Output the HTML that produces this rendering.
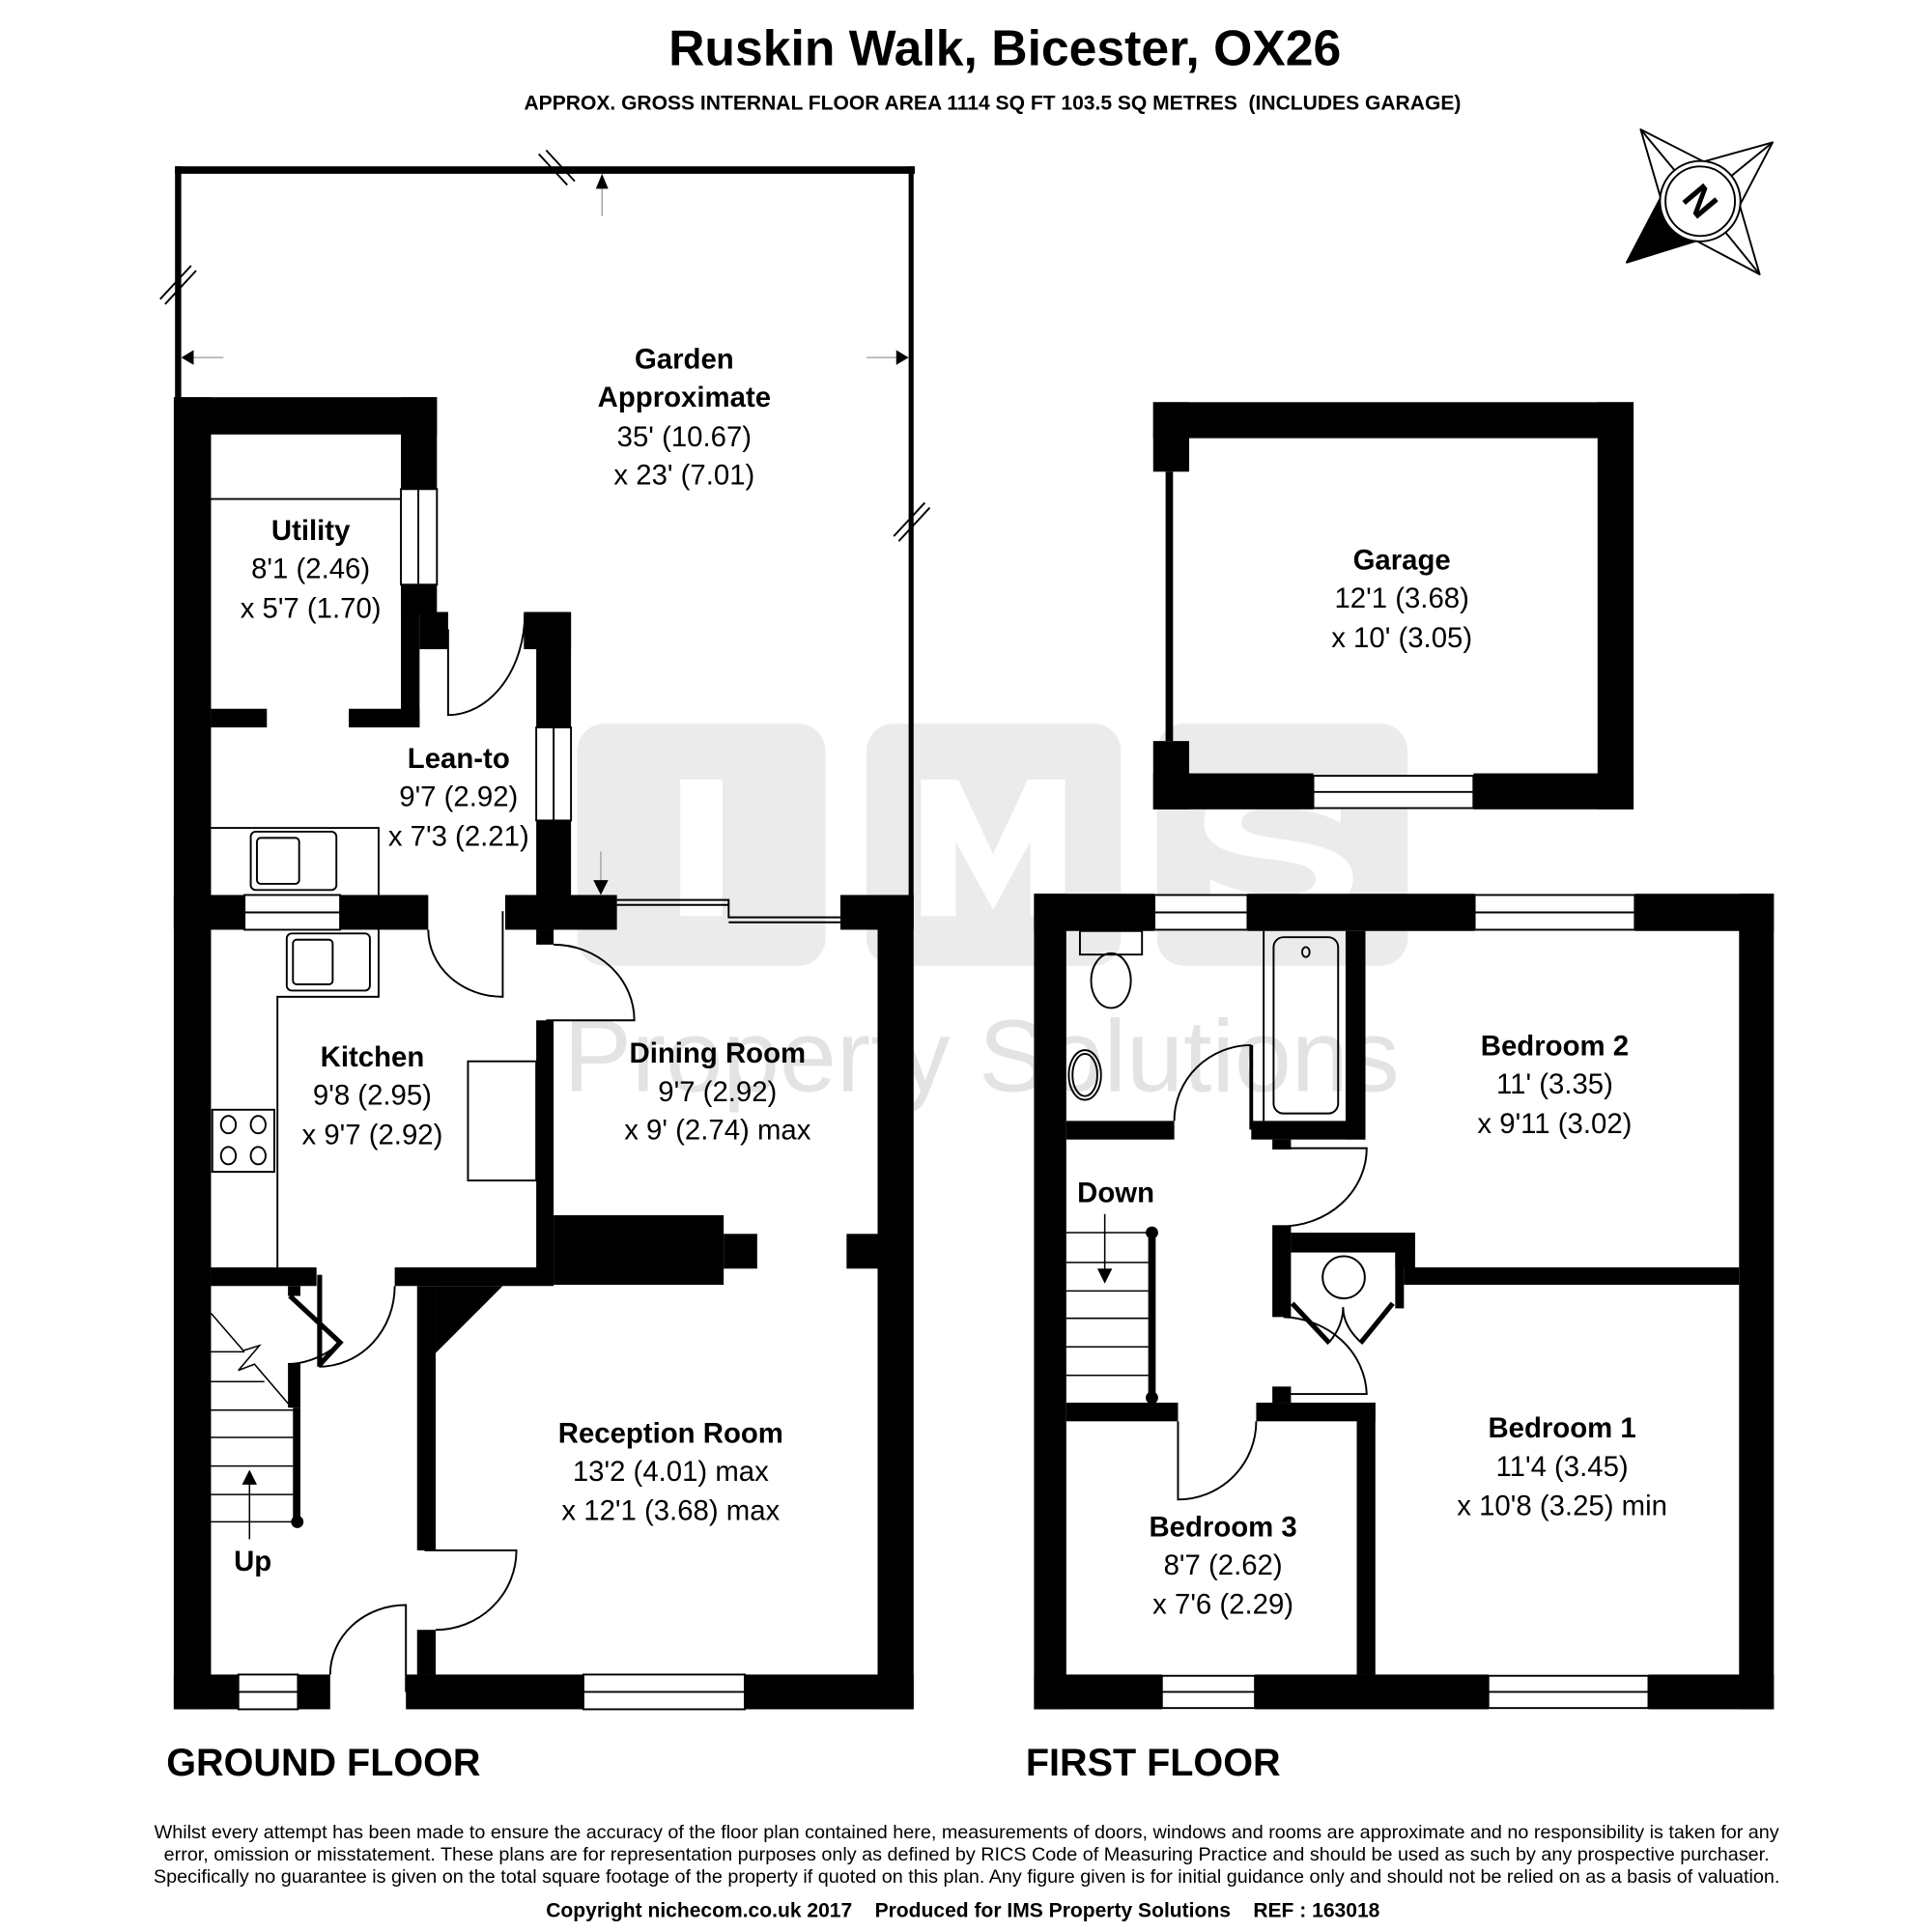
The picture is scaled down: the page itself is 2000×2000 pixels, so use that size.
<!DOCTYPE html>
<html><head><meta charset="utf-8"><style>
html,body{margin:0;padding:0;background:#fff}
svg{display:block}
text{font-family:"Liberation Sans",Arial,sans-serif;fill:#000}
.b{font-weight:bold}
.pre{white-space:pre}
</style></head><body>
<svg width="2000" height="2000" viewBox="0 0 1567 1567" xmlns="http://www.w3.org/2000/svg">
<g transform="scale(1.0068)">
<g fill="#ebebeb">
<rect x="465" y="583" width="200" height="195" rx="22"/>
<rect x="698" y="583" width="205" height="195" rx="22"/>
<rect x="932" y="583" width="202" height="195" rx="22"/>
</g>
<g fill="#fff">
<rect x="548" y="628" width="34" height="110"/>
<path d="M742 738 V628 h30 l28 60 l28-60 h30 v110 h-28 v-60 l-30 55 l-30-55 v60z"/>
<path d="M1080 638 c-20-15-110-20-110 25 c0 40 90 20 90 45 c0 20-60 15-85 0 v25 c40 15 115 10 115-25 c0-40-90-25-90-45 c0-18 55-15 80 0z"/>
</g>
</g>
<text x="457" y="885" font-size="83" style="fill:#e3e3e3">Property Solutions</text>

<text x="815" y="53" font-size="40.5" class="b" text-anchor="middle">Ruskin Walk, Bicester, OX26</text>
<text x="805" y="89" font-size="16.5" class="b pre" text-anchor="middle">APPROX. GROSS INTERNAL FLOOR AREA 1114 SQ FT 103.5 SQ METRES  (INCLUDES GARAGE)</text>

<g transform="scale(1.0068)">
<g stroke="#000" stroke-width="1.5" fill="#fff" stroke-linejoin="round">
<polygon points="1321.7,104.3 1372.5,130.2 1428,114.7 1401.5,165.4 1417.6,221 1366.6,194 1310.5,211.4 1337.8,159.3"/>
<polygon points="1310.5,211.4 1337.8,159.3 1369.7,162.1 1366.6,194" fill="#000"/>
<line x1="1321.7" y1="104.3" x2="1369.7" y2="162.1"/>
<line x1="1428" y1="114.7" x2="1369.7" y2="162.1"/>
<line x1="1417.6" y1="221" x2="1369.7" y2="162.1"/>
<circle cx="1369.7" cy="162.1" r="32.4"/>
<circle cx="1369.7" cy="162.1" r="28"/>
</g>
<text x="1369.7" y="173" font-size="32" class="b" text-anchor="middle" transform="rotate(50 1369.7 162.1)">N</text>

<g fill="#000">
<rect x="141" y="134" width="596" height="6"/>
<rect x="141" y="134" width="5" height="190"/>
<rect x="732" y="134" width="4" height="590"/>
<rect x="141" y="320" width="211" height="30"/>
<rect x="323" y="320" width="29" height="74"/>
<rect x="323" y="471" width="29" height="24"/>
<rect x="323" y="471" width="15" height="115"/>
<rect x="338" y="493" width="23" height="30"/>
<rect x="170" y="571" width="45" height="15"/>
<rect x="281" y="571" width="57" height="15"/>
<rect x="422" y="493" width="38" height="30"/>
<rect x="432" y="493" width="28" height="93"/>
<rect x="432" y="661" width="28" height="62"/>
<rect x="140" y="320" width="30" height="1057"/>
<rect x="140" y="721" width="57" height="28"/>
<rect x="274" y="721" width="71" height="28"/>
<rect x="407" y="721" width="90" height="28"/>
<rect x="677" y="721" width="59" height="28"/>
<rect x="432" y="749" width="14" height="12"/>
<rect x="707" y="721" width="29" height="656"/>
<rect x="140" y="1349" width="52" height="28"/>
<rect x="240" y="1349" width="26" height="28"/>
<rect x="327" y="1349" width="143" height="28"/>
<rect x="600" y="1349" width="136" height="28"/>
<rect x="432" y="822" width="14" height="200"/>
<rect x="446" y="979" width="137" height="56"/>
<rect x="583" y="994" width="27" height="28"/>
<rect x="682" y="994" width="25" height="28"/>
<rect x="170" y="1021" width="85" height="15"/>
<rect x="318" y="1021" width="128" height="15"/>
<rect x="232" y="1036" width="10" height="8"/>
<rect x="255.5" y="1027" width="4" height="74"/>
<rect x="232" y="1098" width="10" height="36"/>
<rect x="236" y="1134" width="6" height="92"/>
<circle cx="239.5" cy="1226" r="5"/>
<rect x="336" y="1036" width="15" height="213"/>
<polygon points="351,1036 405,1036 351,1090"/>
<rect x="336" y="1313" width="15" height="36"/>
</g>
<g fill="none" stroke="#000" stroke-width="1.5">
<rect x="323" y="394" width="29" height="77"/><line x1="337" y1="394" x2="337" y2="471"/>
<rect x="432" y="586" width="28" height="75"/><line x1="446" y1="586" x2="446" y2="661"/>
<rect x="197" y="721" width="77" height="28"/><line x1="197" y1="735" x2="274" y2="735"/>
<rect x="192" y="1349" width="48" height="28"/><line x1="192" y1="1363" x2="240" y2="1363"/>
<rect x="470" y="1349" width="130" height="28"/><line x1="470" y1="1363" x2="600" y2="1363"/>
<polyline points="497,725 587,725 587,739 677,739"/>
<polyline points="497,729 587,729"/>
<polyline points="587,743 677,743"/>
<line x1="170" y1="402" x2="323" y2="402"/>
<polyline points="170,667 305,667 305,721"/>
<rect x="202" y="670" width="69" height="47" rx="4"/><rect x="207" y="675" width="34" height="37" rx="3"/>
<polyline points="305,749 305,803 223.5,803 223.5,1021"/>
<rect x="231" y="752" width="67" height="46" rx="4"/><rect x="236" y="757" width="32" height="36" rx="3"/>
<rect x="171" y="894" width="50" height="50"/>
<ellipse cx="184" cy="906" rx="6" ry="7"/><ellipse cx="208" cy="906" rx="6" ry="7"/><ellipse cx="184" cy="931" rx="6" ry="7"/><ellipse cx="208" cy="931" rx="6" ry="7"/>
<rect x="377" y="855" width="55" height="96"/>
<path d="M361 507 V576 A62 82 0 0 0 422.8 494"/>
<path d="M345 749 A60 54 0 0 0 405 803 V734"/>
<path d="M446 761 A65 61 0 0 1 511 822 H440"/>
<path d="M318 1036 A61 65 0 0 1 257 1101"/>
<path d="M232 1099 Q255 1098 274 1082"/>
<path d="M342 1249 H416 A65 64 0 0 1 351 1313"/>
<path d="M266 1349 A61 56 0 0 1 327 1293 V1363"/>
<polyline points="233.5,1044 274,1081.5 257,1100" stroke-width="4"/>
<g stroke-width="1.2">
<line x1="170" y1="1089" x2="197" y2="1089"/>
<line x1="170" y1="1113" x2="213" y2="1113"/>
<line x1="170" y1="1136" x2="236" y2="1136"/>
<line x1="170" y1="1158" x2="236" y2="1158"/>
<line x1="170" y1="1181" x2="236" y2="1181"/>
<line x1="170" y1="1204" x2="236" y2="1204"/>
<line x1="170" y1="1226" x2="236" y2="1226"/>
<polyline points="170,1058 196,1088 209,1084 192,1104 205,1099 235,1134"/>
<line x1="201" y1="1192" x2="201" y2="1240"/>
</g>
<g stroke-width="1" stroke="#999">
<line x1="485" y1="150" x2="485" y2="174"/>
<line x1="150" y1="288" x2="180" y2="288"/>
<line x1="698" y1="288" x2="728" y2="288"/>
<line x1="484" y1="686" x2="484" y2="712"/>
</g>
<line x1="434" y1="124" x2="457" y2="149"/><line x1="440" y1="121" x2="463" y2="146"/>
<line x1="129" y1="241" x2="154" y2="214"/><line x1="133" y1="245" x2="158" y2="218"/>
<line x1="720" y1="432" x2="745" y2="405"/><line x1="724" y1="436" x2="749" y2="409"/>
</g>
<g fill="#000">
<polygon points="485,140 480,152 490,152"/>
<polygon points="146,288 156,282 156,294"/>
<polygon points="732,288 722,282 722,294"/>
<polygon points="484,721 478,709 490,709"/>
<polygon points="201,1184 195,1196 207,1196"/>
</g>

<g fill="#000">
<rect x="929" y="324" width="387" height="29"/>
<rect x="1287" y="324" width="29" height="328"/>
<rect x="929" y="623" width="129" height="29"/>
<rect x="1187" y="623" width="129" height="29"/>
<rect x="929" y="324" width="29" height="56"/>
<rect x="929" y="597" width="29" height="55"/>
<rect x="939" y="380" width="6" height="217"/>
</g>
<g fill="none" stroke="#000" stroke-width="1.5">
<rect x="1058" y="625" width="129" height="26" fill="#fff"/><line x1="1058" y1="638" x2="1187" y2="638"/>
</g>

<g fill="#000">
<rect x="833" y="720" width="97" height="30"/>
<rect x="1005" y="720" width="183" height="30"/>
<rect x="1317" y="720" width="112" height="30"/>
<rect x="833" y="720" width="26" height="657"/>
<rect x="1401" y="720" width="28" height="657"/>
<rect x="833" y="1349" width="103" height="28"/>
<rect x="1011" y="1349" width="188" height="28"/>
<rect x="1328" y="1349" width="101" height="28"/>
<rect x="1084" y="750" width="16" height="168"/>
<rect x="859" y="903" width="87" height="15"/>
<rect x="1008" y="903" width="92" height="15"/>
<rect x="1025" y="918" width="15" height="8"/>
<rect x="1006.5" y="842" width="3" height="68"/>
<rect x="1025" y="987" width="15" height="74"/>
<rect x="1040" y="993" width="100" height="16"/>
<rect x="1124" y="993" width="16" height="28"/>
<rect x="1124" y="1009" width="7" height="45"/>
<rect x="1131" y="1021" width="270" height="14"/>
<rect x="1025" y="1117" width="15" height="13"/>
<rect x="859" y="1130" width="90" height="15"/>
<rect x="1012" y="1130" width="96" height="15"/>
<rect x="1093" y="1130" width="15" height="219"/>
<rect x="925" y="993" width="6" height="133"/>
<circle cx="928" cy="993" r="5"/><circle cx="928" cy="1126" r="5"/>
</g>
<g fill="none" stroke="#000" stroke-width="1.5">
<rect x="930" y="721" width="75" height="28" fill="#fff"/><line x1="930" y1="735" x2="1005" y2="735"/>
<rect x="1188" y="721" width="129" height="28" fill="#fff"/><line x1="1188" y1="735" x2="1317" y2="735"/>
<rect x="936" y="1350" width="75" height="26" fill="#fff"/><line x1="936" y1="1363" x2="1011" y2="1363"/>
<rect x="1199" y="1350" width="129" height="26" fill="#fff"/><line x1="1199" y1="1363" x2="1328" y2="1363"/>
<line x1="1018" y1="750" x2="1018" y2="903"/>
<rect x="1026" y="755" width="52" height="142" rx="8"/>
<ellipse cx="1052" cy="767" rx="3" ry="4"/>
<rect x="870" y="750" width="50" height="19"/>
<ellipse cx="895" cy="790" rx="16" ry="22"/>
<ellipse cx="874" cy="866" rx="13" ry="20"/><ellipse cx="874" cy="866" rx="10" ry="17"/>
<path d="M946 903 A62 61 0 0 1 1008 842"/>
<path d="M1032 925 H1101 A69 63 0 0 1 1032 988"/>
<path d="M1032 1123 H1101 A69 64 0 0 0 1034 1061"/>
<path d="M949 1145 V1208 A63 63 0 0 0 1012 1145"/>
<circle cx="1082.5" cy="1029" r="17"/>
<path d="M1082 1053 Q1082 1068 1071 1081 M1082 1053 Q1082 1068 1096 1081"/>
<line x1="1041" y1="1050" x2="1071" y2="1082" stroke-width="4"/>
<line x1="1122" y1="1050" x2="1096" y2="1082" stroke-width="4"/>
<g stroke-width="1.2">
<line x1="859" y1="993" x2="925" y2="993"/>
<line x1="859" y1="1017" x2="925" y2="1017"/>
<line x1="859" y1="1040" x2="925" y2="1040"/>
<line x1="859" y1="1062" x2="925" y2="1062"/>
<line x1="859" y1="1085" x2="925" y2="1085"/>
<line x1="859" y1="1108" x2="925" y2="1108"/>
<line x1="890" y1="978" x2="890" y2="1026"/>
</g>
</g>
<polygon points="890,1034 884,1022 896,1022" fill="#000"/>
</g>

<g font-size="23" text-anchor="middle">
<text x="555" y="299" class="b">Garden</text>
<text x="555" y="330" class="b">Approximate</text>
<text x="555" y="362">35' (10.67)</text>
<text x="555" y="393">x 23' (7.01)</text>
<text x="252" y="438" class="b">Utility</text>
<text x="252" y="469">8'1 (2.46)</text>
<text x="252" y="501">x 5'7 (1.70)</text>
<text x="372" y="623" class="b">Lean-to</text>
<text x="372" y="654">9'7 (2.92)</text>
<text x="372" y="686">x 7'3 (2.21)</text>
<text x="302" y="865" class="b">Kitchen</text>
<text x="302" y="896">9'8 (2.95)</text>
<text x="302" y="928">x 9'7 (2.92)</text>
<text x="582" y="862" class="b">Dining Room</text>
<text x="582" y="893">9'7 (2.92)</text>
<text x="582" y="924">x 9' (2.74) max</text>
<text x="544" y="1170" class="b">Reception Room</text>
<text x="544" y="1201">13'2 (4.01) max</text>
<text x="544" y="1233">x 12'1 (3.68) max</text>
<text x="205" y="1274" class="b">Up</text>
<text x="1137" y="462" class="b">Garage</text>
<text x="1137" y="493">12'1 (3.68)</text>
<text x="1137" y="525">x 10' (3.05)</text>
<text x="905" y="975" class="b">Down</text>
<text x="1261" y="856" class="b">Bedroom 2</text>
<text x="1261" y="887">11' (3.35)</text>
<text x="1261" y="919">x 9'11 (3.02)</text>
<text x="1267" y="1166" class="b">Bedroom 1</text>
<text x="1267" y="1197">11'4 (3.45)</text>
<text x="1267" y="1229">x 10'8 (3.25) min</text>
<text x="992" y="1246" class="b">Bedroom 3</text>
<text x="992" y="1277">8'7 (2.62)</text>
<text x="992" y="1309">x 7'6 (2.29)</text>
</g>

<text x="135" y="1440" font-size="31" class="b">GROUND FLOOR</text>
<text x="832" y="1440" font-size="31" class="b">FIRST FLOOR</text>

<g font-size="15.5" text-anchor="middle">
<text x="784" y="1491">Whilst every attempt has been made to ensure the accuracy of the floor plan contained here, measurements of doors, windows and rooms are approximate and no responsibility is taken for any</text>
<text x="784" y="1509">error, omission or misstatement. These plans are for representation purposes only as defined by RICS Code of Measuring Practice and should be used as such by any prospective purchaser.</text>
<text x="784" y="1527">Specifically no guarantee is given on the total square footage of the property if quoted on this plan. Any figure given is for initial guidance only and should not be relied on as a basis of valuation.</text>
<text x="781" y="1555" class="b pre" font-size="16.5">Copyright nichecom.co.uk 2017    Produced for IMS Property Solutions    REF : 163018</text>
</g>
</svg>
</body></html>
